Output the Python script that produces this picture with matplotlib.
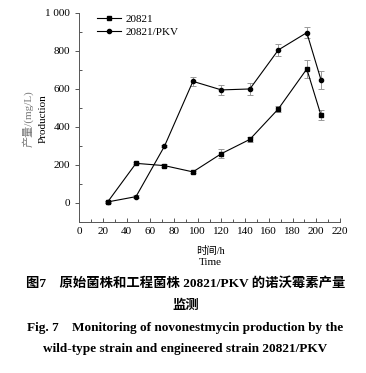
import matplotlib
matplotlib.use("Agg")
import matplotlib.pyplot as plt
from matplotlib.ticker import MultipleLocator

plt.rcParams['font.family'] = ['Liberation Serif', 'Noto Sans CJK SC']

# sampling times (h)
hours = [24, 48, 72, 96, 120, 144, 168, 192, 204]

# 20821 (wild type)
wt = [4, 208, 196, 163, 259, 334, 494, 704, 460]
wt_err = [4, 6, 6, 6, 24, 12, 14, 48, 26]

# 20821/PKV (engineered)
pkv = [5, 33, 298, 639, 594, 599, 804, 895, 646]
pkv_err = [4, 6, 6, 25, 26, 30, 30, 30, 48]

fig = plt.figure(figsize=(3.66, 3.73), dpi=100)
ax = fig.add_axes([0.216, 0.405, 0.713, 0.561])

# error bars first, grey, then the lines on top
ax.errorbar(hours, wt, yerr=wt_err, fmt='none', ecolor='#999999',
            elinewidth=0.7, capsize=2.5, capthick=0.7)
ax.errorbar(hours, pkv, yerr=pkv_err, fmt='none', ecolor='#999999',
            elinewidth=0.7, capsize=2.5, capthick=0.7)
ax.plot(hours, wt, color='black', lw=0.8, marker='s', ms=3, label='20821')
ax.plot(hours, pkv, color='black', lw=0.8, marker='o', ms=3, label='20821/PKV')

ax.set_xlim(0, 220)
ax.set_ylim(-100, 1000)
ax.xaxis.set_major_locator(MultipleLocator(20))
ax.xaxis.set_minor_locator(MultipleLocator(10))
ax.yaxis.set_minor_locator(MultipleLocator(100))
ax.set_yticks([0, 200, 400, 600, 800, 1000])
ax.set_yticklabels(['0', '200', '400', '600', '800', '1 000'])

for s in ['top', 'right']:
    ax.spines[s].set_visible(False)
for s in ['left', 'bottom']:
    ax.spines[s].set_color('#555555')
    ax.spines[s].set_linewidth(0.7)

ax.tick_params(axis='x', which='both', direction='in', color='#555555', labelsize=8, width=0.7)
ax.tick_params(axis='x', which='major', length=3)
ax.tick_params(axis='x', which='minor', length=2)
ax.tick_params(axis='y', which='major', direction='out', length=3, color='#555555', labelsize=8, width=0.7)
ax.tick_params(axis='y', which='minor', direction='in', length=2, color='#555555', width=0.7)

ax.legend(loc='upper left', bbox_to_anchor=(0.03, 1.04), frameon=False, fontsize=8,
          handlelength=2.2, labelspacing=0.3, handletextpad=0.4)

fig.text(0.077, 0.683, '产量/(mg/L)', rotation=90, ha='center', va='center',
         fontsize=8, color='#777777')
fig.text(0.117, 0.683, 'Production', rotation=90, ha='center', va='center', fontsize=8)

fig.text(0.574, 0.327, '时间/h', ha='center', va='center', fontsize=7.5)
fig.text(0.574, 0.295, 'Time', ha='center', va='center', fontsize=8)

fig.text(0.507, 0.241, '图7\u2003原始菌株和工程菌株 20821/PKV 的诺沃霉素产量',
         ha='center', va='center', fontsize=9.6, fontweight='bold')
fig.text(0.507, 0.180, '监测', ha='center', va='center', fontsize=9.6, fontweight='bold')
fig.text(0.505, 0.121, 'Fig. 7\u2003Monitoring of novonestmycin production by the',
         ha='center', va='center', fontsize=9.5, fontweight='bold')
fig.text(0.505, 0.064, 'wild-type strain and engineered strain 20821/PKV',
         ha='center', va='center', fontsize=9.5, fontweight='bold')

fig.savefig('out.png', dpi=100)
